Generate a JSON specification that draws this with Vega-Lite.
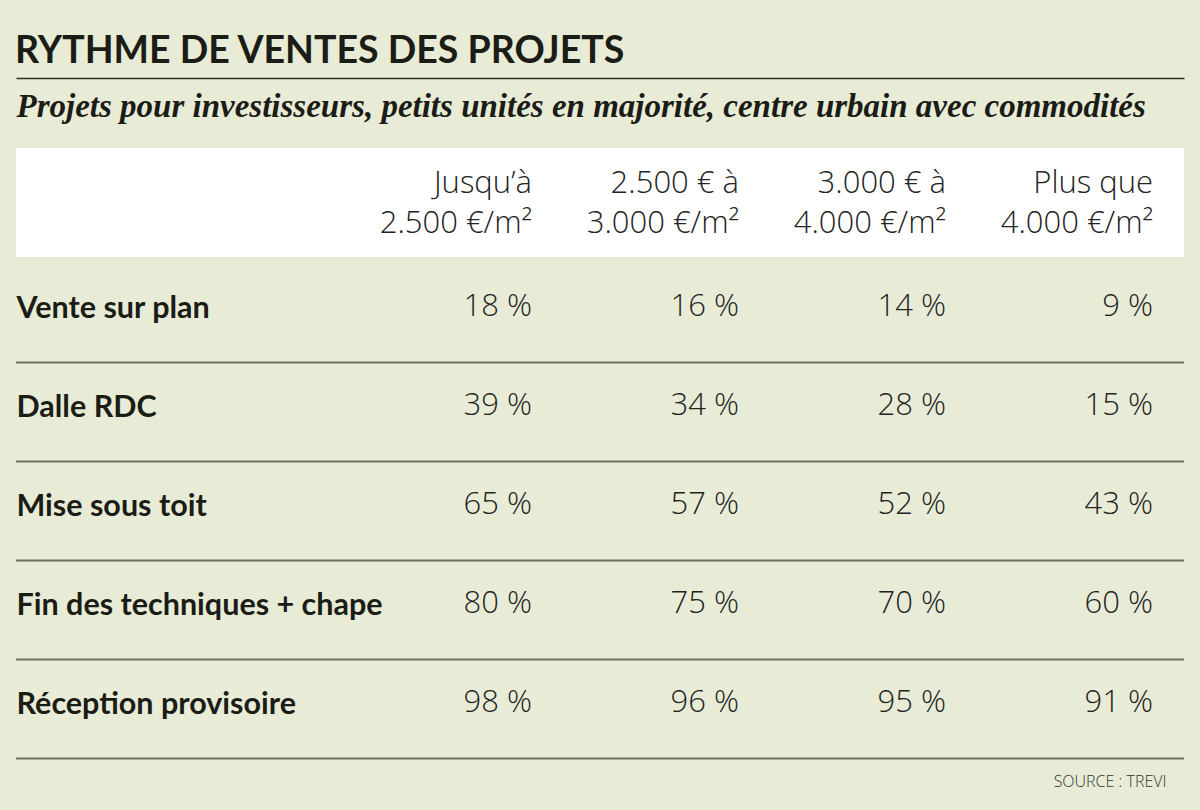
{
  "$schema": "https://vega.github.io/schema/vega-lite/v6.json",
  "width": 1168,
  "height": 682,
  "autosize": {"type": "none"},
  "padding": {"left": 16, "top": 78, "right": 16, "bottom": 50},
  "background": "#e8ecd7",
  "title": {
    "text": "RYTHME DE VENTES DES PROJETS",
    "anchor": "start",
    "font": "Lato",
    "fontSize": 37.5,
    "fontWeight": "bold",
    "color": "#1b1c16",
    "offset": 8
  },
  "config": {
    "view": {"stroke": null},
    "locale": {
      "number": {"decimal": ",", "thousands": ".", "grouping": [3], "currency": ["", " %"]}
    },
    "axisY": {
      "domain": false,
      "ticks": false,
      "tickSize": 0,
      "grid": false,
      "labelAlign": "left",
      "labelBaseline": "middle",
      "labelPadding": 0,
      "labelOffset": 4,
      "labelLimit": 700,
      "labelFont": "Lato",
      "labelFontWeight": "bold",
      "labelFontSize": 30.5,
      "labelColor": "#1b1c16",
      "title": null
    }
  },
  "datasets": {
    "bands": [
      {"band": "Jusqu’à\n2.500 €/m²"},
      {"band": "2.500 € à\n3.000 €/m²"},
      {"band": "3.000 € à\n4.000 €/m²"},
      {"band": "Plus que\n4.000 €/m²"}
    ],
    "cells": [
      {"stage": "Vente sur plan", "band": "Jusqu’à\n2.500 €/m²", "value": 18},
      {"stage": "Vente sur plan", "band": "2.500 € à\n3.000 €/m²", "value": 16},
      {"stage": "Vente sur plan", "band": "3.000 € à\n4.000 €/m²", "value": 14},
      {"stage": "Vente sur plan", "band": "Plus que\n4.000 €/m²", "value": 9},
      {"stage": "Dalle RDC", "band": "Jusqu’à\n2.500 €/m²", "value": 39},
      {"stage": "Dalle RDC", "band": "2.500 € à\n3.000 €/m²", "value": 34},
      {"stage": "Dalle RDC", "band": "3.000 € à\n4.000 €/m²", "value": 28},
      {"stage": "Dalle RDC", "band": "Plus que\n4.000 €/m²", "value": 15},
      {"stage": "Mise sous toit", "band": "Jusqu’à\n2.500 €/m²", "value": 65},
      {"stage": "Mise sous toit", "band": "2.500 € à\n3.000 €/m²", "value": 57},
      {"stage": "Mise sous toit", "band": "3.000 € à\n4.000 €/m²", "value": 52},
      {"stage": "Mise sous toit", "band": "Plus que\n4.000 €/m²", "value": 43},
      {"stage": "Fin des techniques + chape", "band": "Jusqu’à\n2.500 €/m²", "value": 80},
      {"stage": "Fin des techniques + chape", "band": "2.500 € à\n3.000 €/m²", "value": 75},
      {"stage": "Fin des techniques + chape", "band": "3.000 € à\n4.000 €/m²", "value": 70},
      {"stage": "Fin des techniques + chape", "band": "Plus que\n4.000 €/m²", "value": 60},
      {"stage": "Réception provisoire", "band": "Jusqu’à\n2.500 €/m²", "value": 98},
      {"stage": "Réception provisoire", "band": "2.500 € à\n3.000 €/m²", "value": 96},
      {"stage": "Réception provisoire", "band": "3.000 € à\n4.000 €/m²", "value": 95},
      {"stage": "Réception provisoire", "band": "Plus que\n4.000 €/m²", "value": 91}
    ]
  },
  "layer": [
    {
      "data": {"name": "cells"},
      "mark": {
        "type": "text",
        "align": "right",
        "baseline": "middle",
        "font": "Open Sans",
        "fontWeight": 300,
        "fontSize": 31,
        "color": "#23241e",
        "yOffset": 2
      },
      "encoding": {
        "x": {
          "field": "band",
          "type": "nominal",
          "bandPosition": 1,
          "scale": {
            "type": "band",
            "domain": ["Jusqu’à\n2.500 €/m²", "2.500 € à\n3.000 €/m²", "3.000 € à\n4.000 €/m²", "Plus que\n4.000 €/m²"],
            "paddingInner": 0,
            "paddingOuter": 0.8213,
            "align": 0.9088
          },
          "axis": {
            "orient": "bottom",
            "labels": false,
            "ticks": false,
            "grid": false,
            "domain": false,
            "title": "SOURCE : TREVI",
            "titleAnchor": "end",
            "titleAlign": "right",
            "titleX": 1150,
            "titlePadding": 13,
            "titleFont": "Open Sans",
            "titleFontWeight": 300,
            "titleFontSize": 16,
            "titleColor": "#33342d"
          }
        },
        "y": {
          "field": "stage",
          "type": "nominal",
          "scale": {
            "type": "band",
            "domain": ["", "Vente sur plan", "Dalle RDC", "Mise sous toit", "Fin des techniques + chape", "Réception provisoire"],
            "paddingInner": 0,
            "paddingOuter": 0.4444,
            "align": 0.892
          }
        },
        "text": {"field": "value", "type": "quantitative", "format": "$d"}
      }
    },
    {
      "data": {"name": "bands"},
      "transform": [{"aggregate": [{"op": "count", "as": "n"}]}],
      "mark": {"type": "rect", "color": "#ffffff", "height": {"band": 1.1}, "yOffset": -3.5},
      "encoding": {
        "y": {"datum": "", "type": "nominal"}
      }
    },
    {
      "data": {"name": "cells"},
      "transform": [{"aggregate": [{"op": "count", "as": "n"}], "groupby": ["stage"]}],
      "mark": {"type": "rule", "color": "#6b7160", "strokeWidth": 2, "yOffset": 8},
      "encoding": {
        "y": {"field": "stage", "type": "nominal", "bandPosition": 1}
      }
    },
    {
      "data": {"name": "bands"},
      "mark": {
        "type": "text",
        "align": "right",
        "baseline": "middle",
        "lineBreak": "\n",
        "lineHeight": 40,
        "font": "Open Sans",
        "fontWeight": 300,
        "fontSize": 31,
        "color": "#23241e",
        "yOffset": -22
      },
      "encoding": {
        "x": {
          "field": "band",
          "type": "nominal",
          "bandPosition": 1,
          "axis": {
            "orient": "top",
            "labels": false,
            "ticks": false,
            "grid": false,
            "domain": true,
            "domainColor": "#2b2e25",
            "domainWidth": 1.5,
            "title": "Projets pour investisseurs, petits unités en majorité, centre urbain avec commodités",
            "titleAnchor": "start",
            "titleAlign": "left",
            "titleX": 0,
            "titleY": 38,
            "titleBaseline": "alphabetic",
            "titleFont": "Liberation Serif",
            "titleFontStyle": "italic",
            "titleFontWeight": "bold",
            "titleFontSize": 33,
            "titleColor": "#1b1c16"
          }
        },
        "y": {"datum": "", "type": "nominal"},
        "text": {"field": "band", "type": "nominal"}
      }
    }
  ]
}
